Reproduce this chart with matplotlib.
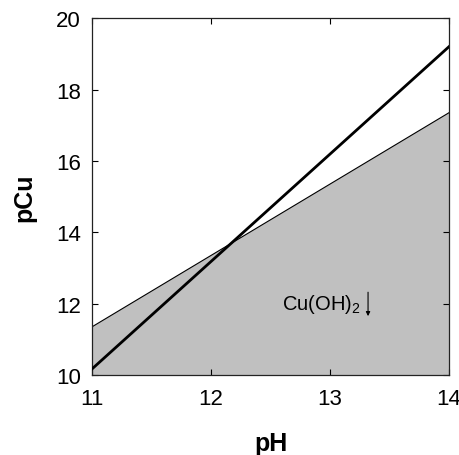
import numpy as np
import matplotlib
matplotlib.use("Agg")
import matplotlib.pyplot as plt

plt.rcParams["font.family"] = ["Liberation Sans", "DejaVu Sans"]
plt.rcParams["mathtext.fontset"] = "custom"
plt.rcParams["mathtext.rm"] = "Liberation Sans"

# boundary lines (pH, pCu)
ph = [11.0, 14.0]
pcu_solubility = [11.35, 17.35]   # thin line, top of the shaded Cu(OH)2 region
pcu_complex = [10.17, 19.2]       # thick line

x_ticks = [11, 12, 13, 14]
y_ticks = [10, 12, 14, 16, 18, 20]

fig = plt.figure(figsize=(4.6, 4.56), dpi=100)
ax = fig.add_axes([0.2, 0.1754, 0.776, 0.7826])

ax.fill_between(ph, 10, pcu_solubility, facecolor="#c0c0c0", edgecolor="none", zorder=1)
ax.plot(ph, pcu_solubility, color="black", linewidth=0.8, zorder=2)
ax.plot(ph, pcu_complex, color="black", linewidth=2.0, zorder=3)

ax.text(12.6, 12.0, "Cu(OH)$_\\mathregular{2}$", fontsize=14.5, ha="left", va="center", zorder=4)
# precipitate arrow
ax.annotate("", xy=(13.32, 11.65), xytext=(13.32, 12.32),
            arrowprops=dict(arrowstyle="-|>", color="black", lw=0.8,
                            mutation_scale=6, shrinkA=0, shrinkB=0), zorder=4)

ax.set_xlim(11, 14)
ax.set_ylim(10, 20)
ax.set_xticks(x_ticks)
ax.set_yticks(y_ticks)
ax.tick_params(direction="in", length=4, width=0.8, top=True, right=True,
               labelsize=16, pad=8)
ax.tick_params(axis="x", pad=9)
for s in ax.spines.values():
    s.set_linewidth(0.9)
    s.set_color("#222222")

ax.set_xlabel("pH", fontsize=18, fontweight="bold", labelpad=16)
ax.set_ylabel("pCu", fontsize=18, fontweight="bold", labelpad=14)

fig.savefig("out.png", dpi=100)
plt.close(fig)
